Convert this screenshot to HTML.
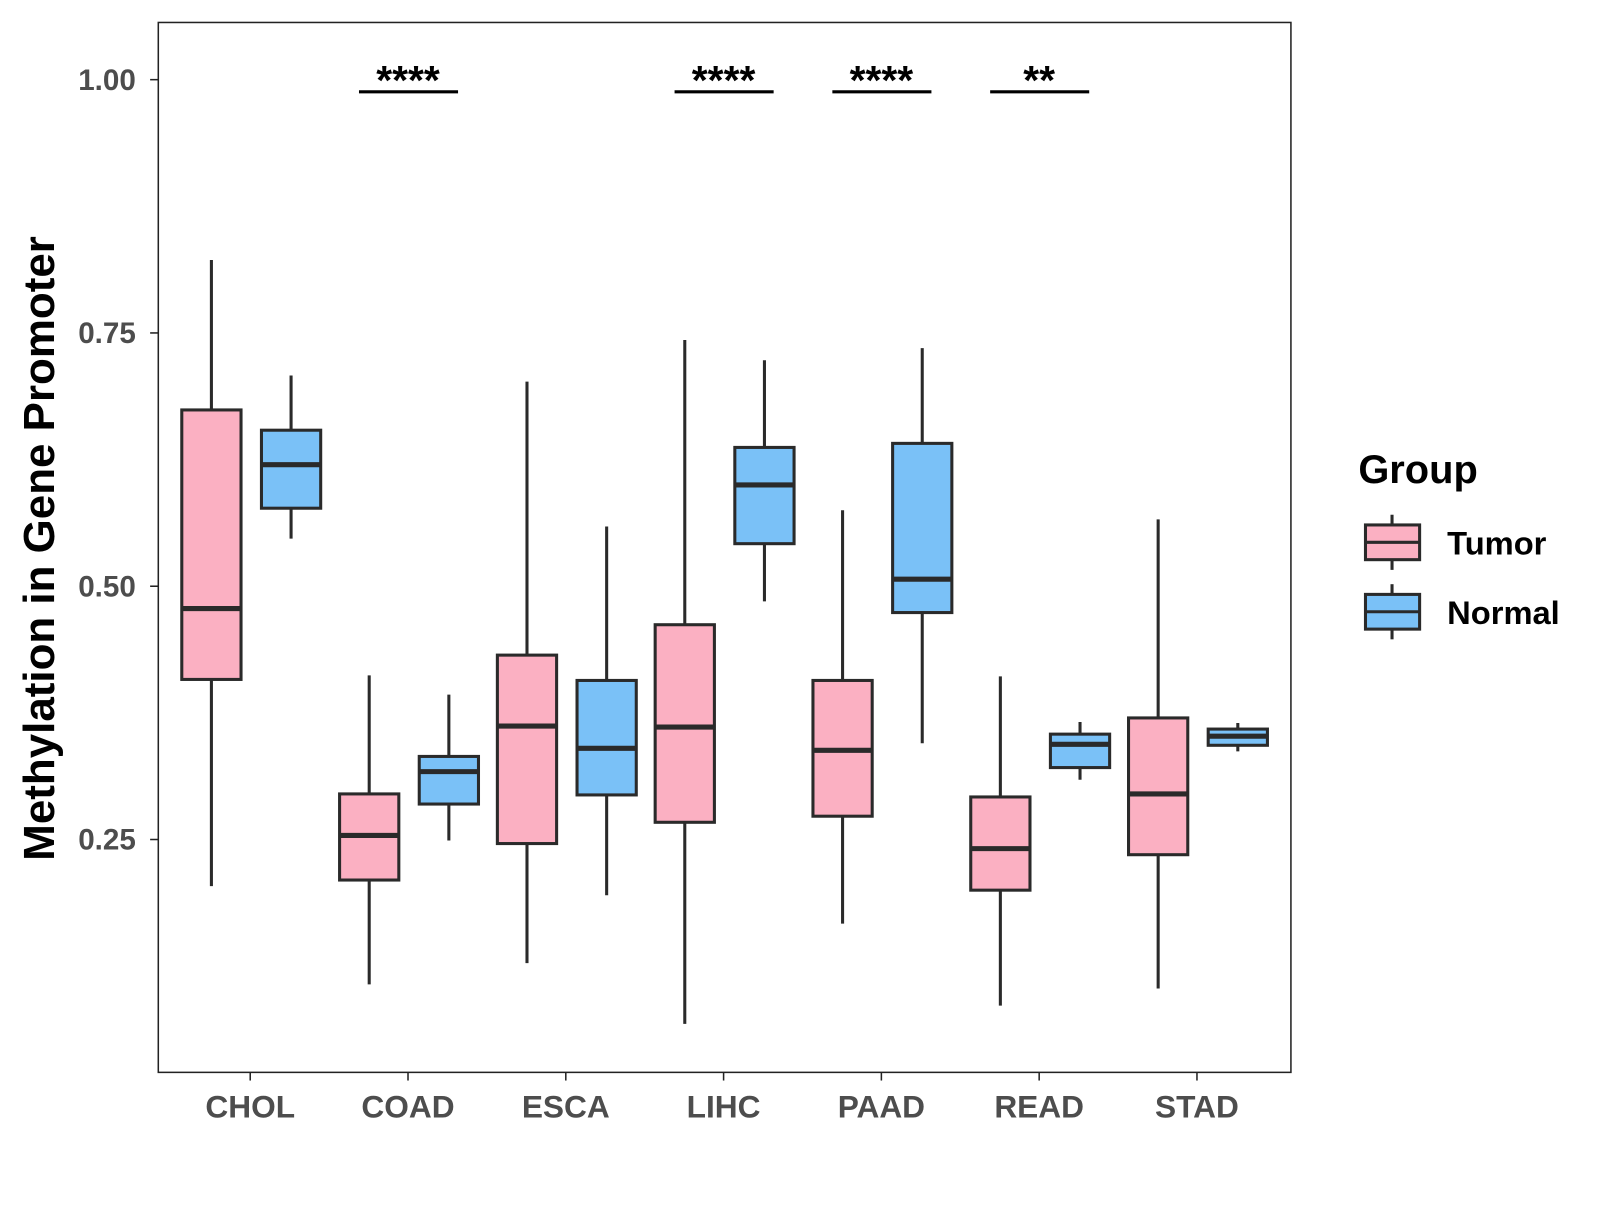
<!DOCTYPE html>
<html><head><meta charset="utf-8"><style>
body{margin:0;background:#fff;}
svg text{font-family:"Liberation Sans",Arial,sans-serif;font-weight:bold;}
</style></head><body>
<svg id="chart" width="1600" height="1200" xmlns="http://www.w3.org/2000/svg">
<rect x="0" y="0" width="1600" height="1200" fill="#fff"/>
<g transform="scale(1.0213)">
<rect x="155" y="22" width="1109" height="1028" fill="none" stroke="#222" stroke-width="1.5"/>
<g id="yaxis"></g>
<g id="xaxis"></g>
<g id="boxes"></g>
<g id="sig"></g>
<text x="53" y="537" font-size="43" fill="#000" text-anchor="middle" transform="rotate(-90 53 537)">Methylation in Gene Promoter</text>
<g>
<text x="1330" y="473" font-size="39" fill="#000">Group</text>
<g>
<line x1="1363" y1="504" x2="1363" y2="558" stroke="#2a2a2a" stroke-width="3"/>
<rect x="1337" y="514" width="53" height="34" fill="#FBB0C2" stroke="#2a2a2a" stroke-width="3"/>
<line x1="1337" y1="531" x2="1390" y2="531" stroke="#2a2a2a" stroke-width="3"/>
<text x="1417" y="543" font-size="32" fill="#000">Tumor</text></g>
<g>
<line x1="1363" y1="572" x2="1363" y2="626" stroke="#2a2a2a" stroke-width="3"/>
<rect x="1337" y="582" width="53" height="34" fill="#7AC1F7" stroke="#2a2a2a" stroke-width="3"/>
<line x1="1337" y1="599" x2="1390" y2="599" stroke="#2a2a2a" stroke-width="3"/>
<text x="1417" y="611" font-size="32" fill="#000">Normal</text></g>
</g>
</g>
</svg>
<script>
const categories=["CHOL","COAD","ESCA","LIHC","PAAD","READ","STAD"];
// [whiskerHigh, q3, median, q1, whiskerLow]
const tumorStats=[[0.822,0.674,0.478,0.408,0.204],[0.412,0.295,0.254,0.210,0.107],[0.702,0.432,0.362,0.246,0.128],[0.743,0.462,0.361,0.267,0.068],[0.575,0.407,0.338,0.273,0.167],[0.411,0.292,0.241,0.200,0.086],[0.566,0.370,0.295,0.235,0.103]];
const normalStats=[[0.708,0.654,0.620,0.577,0.547],[0.393,0.332,0.317,0.285,0.249],[0.559,0.407,0.340,0.294,0.195],[0.723,0.637,0.600,0.542,0.485],[0.735,0.641,0.507,0.474,0.345],[0.366,0.354,0.344,0.321,0.309],[0.365,0.359,0.352,0.343,0.337]];
const yTicks=[0.25,0.5,0.75,1.0];
const yTickLabels=["0.25","0.50","0.75","1.00"];
const sigCategories=["COAD","LIHC","PAAD","READ"];
const sigLabels=["****","****","****","**"];
const sigLevel=0.988;

const NS="http://www.w3.org/2000/svg";
function y(v){return 822-(v-0.25)*992;}
function x(i){return 245+i*154.5;}
function mk(t,a,p){const e=document.createElementNS(NS,t);for(const k in a)e.setAttribute(k,a[k]);p.appendChild(e);return e;}
const ya=document.getElementById('yaxis');
yTicks.forEach((t,i)=>{
  const l=mk('line',{x1:147,x2:155,y1:y(t),y2:y(t),stroke:'#222','stroke-width':1.5},ya);
  
  
  const tx=mk('text',{x:133,y:y(t)+10,'font-size':29,fill:'#4d4d4d','text-anchor':'end'},ya);
  tx.textContent=yTickLabels[i];
  
  
});
const xa=document.getElementById('xaxis');
categories.forEach((c,i)=>{
  const l=mk('line',{x1:x(i),x2:x(i),y1:1050,y2:1058,stroke:'#222','stroke-width':1.5},xa);
  
  
  const tx=mk('text',{x:x(i),y:1094,'font-size':31,fill:'#4d4d4d','text-anchor':'middle'},xa);
  tx.textContent=c;
  
  
});
const bg=document.getElementById('boxes');
function box(cx,s,fill,name){
  const g=mk('g',{},bg);
  
  
  const st={stroke:'#2a2a2a','stroke-width':3};
  mk('line',Object.assign({x1:cx,x2:cx,y1:y(s[0]),y2:y(s[4])},st),g);
  mk('rect',Object.assign({x:cx-29,width:58,y:y(s[1]),height:y(s[3])-y(s[1]),fill:fill},st),g);
  mk('line',{x1:cx-29,x2:cx+29,y1:y(s[2]),y2:y(s[2]),stroke:'#2a2a2a','stroke-width':5},g);
}
categories.forEach((c,i)=>{
  box(x(i)-38,tumorStats[i],'#FBB0C2','box-tumor-'+c.toLowerCase());
  box(x(i)+40,normalStats[i],'#7AC1F7','box-normal-'+c.toLowerCase());
});
const sg=document.getElementById('sig');
sigCategories.forEach((c,k)=>{
  const i=categories.indexOf(c);
  const l=mk('line',{x1:x(i)-48,x2:x(i)+49,y1:y(sigLevel),y2:y(sigLevel),stroke:'#000','stroke-width':3},sg);
  
  
  const t=mk('text',{x:x(i),y:y(sigLevel)+2,'font-size':40,fill:'#000','text-anchor':'middle'},sg);
  t.textContent=sigLabels[k];
  
  
});
</script>
</body></html>
